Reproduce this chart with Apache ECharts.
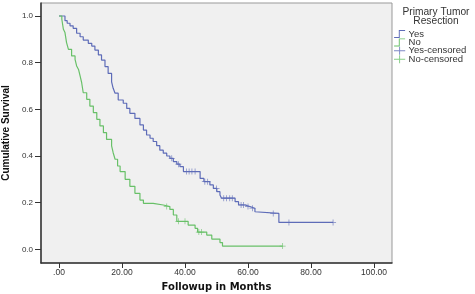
<!DOCTYPE html>
<html>
<head>
<meta charset="utf-8">
<script src="https://cdn.jsdelivr.net/npm/echarts@6/dist/echarts.min.js"></script>
<style>
  html, body { margin: 0; padding: 0; background: #fff; }
  #chart { width: 475px; height: 294px; }
</style>
</head>
<body>
<div id="chart"></div>
<script>
// Kaplan-Meier steps
var yesTime = [0, 1.9, 2.6, 3.5, 4.5, 5.6, 6.7, 7.7, 9.3, 10.4, 11.4, 12.5, 13.5, 14.6, 15.6, 16.7, 17.2, 17.8, 18.8, 20.4,
    21.5, 22.5, 24.1, 25.7, 26.8, 27.8, 28.9, 29.9, 31.0, 32.0, 33.1, 34.2, 35.2, 36.3, 37.4, 38.4, 39.5, 44.8, 46.0, 47.9,
    49.0, 50.1, 51.1, 51.6, 55.9, 57.0, 59.1, 60.6, 62.2, 62.8, 69.8, 87.0];
var yesSurv = [1.0, 0.98, 0.969, 0.958, 0.947, 0.926, 0.911, 0.897, 0.883, 0.871, 0.854, 0.833, 0.811, 0.783, 0.754, 0.718, 0.69, 0.669, 0.64, 0.626,
    0.604, 0.583, 0.561, 0.533, 0.511, 0.49, 0.476, 0.462, 0.444, 0.425, 0.412, 0.40, 0.39, 0.376, 0.365, 0.354, 0.333, 0.304, 0.29, 0.276,
    0.261, 0.247, 0.233, 0.219, 0.204, 0.19, 0.183, 0.176, 0.161, 0.154, 0.115, 0.115];
var yesCensor = [35.8, 37.9, 40.5, 41.3, 42.2, 43.2, 46.3, 47.2, 50.0, 52.3, 53.2, 54.2, 55.0, 57.8, 58.6, 60.0, 61.4, 68.0, 73.0, 87.0];

var noTime = [0, 0.9, 1.4, 1.9, 2.4, 3.0, 4.0, 5.1, 5.6, 6.2, 6.7, 7.2, 7.7, 8.8, 9.8, 10.9, 12.0, 13.0, 14.1, 15.1,
    16.7, 17.2, 17.8, 18.6, 19.4, 21.0, 22.5, 24.1, 25.7, 26.8, 29.9, 33.1, 35.2, 36.3, 37.4, 41.0, 43.2, 44.0, 46.9, 48.5,
    51.1, 51.9, 71.0];
var noSurv = [1.0, 0.986, 0.943, 0.929, 0.886, 0.857, 0.829, 0.814, 0.786, 0.771, 0.743, 0.714, 0.671, 0.643, 0.614, 0.586, 0.557, 0.529, 0.5, 0.471,
    0.443, 0.414, 0.386, 0.357, 0.333, 0.3, 0.27, 0.24, 0.211, 0.197, 0.19, 0.183, 0.171, 0.147, 0.12, 0.104, 0.09, 0.074, 0.061, 0.044,
    0.029, 0.014, 0.014];
var noCensor = [34.2, 37.9, 40.0, 44.4, 45.2, 71.0];

var yTicks = [0, 0.2, 0.4, 0.6, 0.8, 1.0];
var xTicks = [0, 20, 40, 60, 80, 100];

var blue = "#5e6cb8", green = "#68c068";

function pairs(t, s) {
    var d = [];
    for (var i = 0; i < t.length; i++) d.push([t[i], s[i]]);
    return d;
}
// survival value of the step curve at time x
function survAt(t, s, x) {
    var v = s[0];
    for (var i = 0; i < t.length; i++) {
        if (t[i] <= x) v = s[i];
    }
    return v;
}
function censorPts(c, t, s) {
    return c.map(function (x) { return [x, survAt(t, s, x)]; });
}

var cross = "path://M-0.12,-1H0.12V1H-0.12Z M-1,-0.12H1V0.12H-1Z";
var stepIcon = "path://M0,9H6V0H14V1.2H7.2V10.2H0Z";
var censIcon = "path://M0,4.4H14V5.6H0Z M6.4,0H7.6V10H6.4Z";

var chart = echarts.init(document.getElementById("chart"));
chart.setOption({
    animation: false,
    backgroundColor: "#fff",
    title: {
        text: "Primary Tumor\nResection",
        left: 431, top: 3, textAlign: "center",
        textStyle: { fontFamily: "Liberation Sans", fontSize: 10.2, fontWeight: "normal", color: "#333", lineHeight: 9 }
    },
    legend: {
        orient: "vertical", left: 389, top: 24,
        itemWidth: 14, itemHeight: 8, itemGap: -1.6,
        textStyle: { fontFamily: "Liberation Sans", fontSize: 9.5, color: "#333", lineHeight: 8.4, padding: [0, 0, 0, -3] },
        data: [
            { name: "Yes", icon: stepIcon },
            { name: "No", icon: stepIcon },
            { name: "Yes-censored", icon: censIcon },
            { name: "No-censored", icon: censIcon }
        ]
    },
    grid: {
        left: 41, top: 3, right: 83, bottom: 31,
        outerBoundsMode: "none", containLabel: false,
        show: true, backgroundColor: "#f0f0f0", borderColor: "#999", borderWidth: 1
    },
    xAxis: {
        type: "value", min: -5.71, max: 105.71,
        name: "Followup in Months", nameLocation: "middle", nameGap: 19,
        nameTextStyle: { fontFamily: "DejaVu Sans", fontSize: 10, fontWeight: "bold", color: "#111" },
        axisLine: { show: true, onZero: false, lineStyle: { color: "#333", width: 1.5 } },
        axisTick: { show: true, length: 5, customValues: xTicks, lineStyle: { color: "#333" } },
        axisLabel: {
            customValues: xTicks, margin: 5,
            fontFamily: "Liberation Sans", fontSize: 8.5, color: "#333",
            formatter: function (v) { return v === 0 ? ".00" : v.toFixed(2); }
        },
        splitLine: { show: false }
    },
    yAxis: {
        type: "value", min: -0.0587, max: 1.0557,
        name: "Cumulative Survival", nameLocation: "middle", nameGap: 30,
        nameTextStyle: { fontFamily: "Liberation Sans", fontSize: 10, fontWeight: "bold", color: "#111" },
        axisLine: { show: true, onZero: false, lineStyle: { color: "#333", width: 1.5 } },
        axisTick: { show: true, length: 6, customValues: yTicks, lineStyle: { color: "#333" } },
        axisLabel: {
            customValues: yTicks, margin: 8,
            fontFamily: "Liberation Sans", fontSize: 8, color: "#333",
            formatter: function (v) { return v.toFixed(1); }
        },
        splitLine: { show: false }
    },
    series: [
        {
            name: "Yes", type: "line", step: "end", showSymbol: false, symbol: "none",
            data: pairs(yesTime, yesSurv), color: blue, lineStyle: { width: 1.2, color: blue }
        },
        {
            name: "No", type: "line", step: "end", showSymbol: false, symbol: "none",
            data: pairs(noTime, noSurv), color: green, lineStyle: { width: 1.2, color: green }
        },
        {
            name: "Yes-censored", type: "scatter", symbol: cross, symbolSize: 6,
            data: censorPts(yesCensor, yesTime, yesSurv), itemStyle: { color: blue }
        },
        {
            name: "No-censored", type: "scatter", symbol: cross, symbolSize: 6,
            data: censorPts(noCensor, noTime, noSurv), itemStyle: { color: green }
        }
    ]
});
</script>
</body>
</html>
